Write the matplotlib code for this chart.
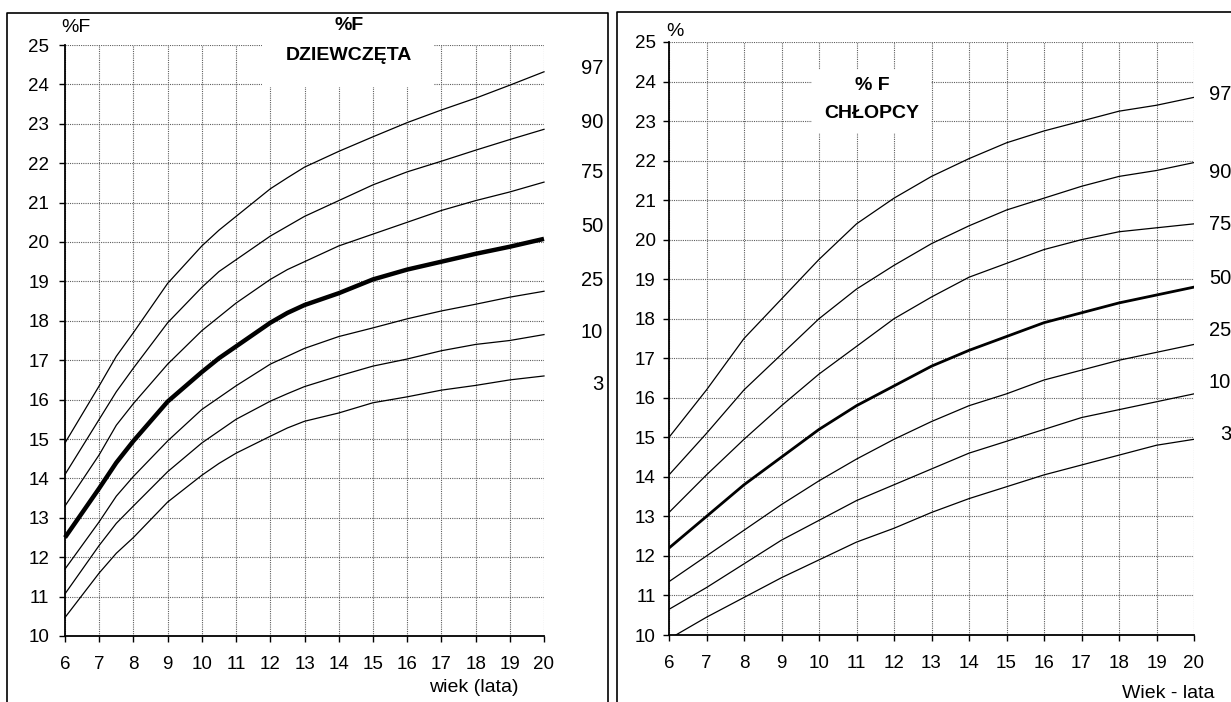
import matplotlib
matplotlib.use("Agg")
import matplotlib.pyplot as plt
from matplotlib.patches import Rectangle
from matplotlib.lines import Line2D

plt.rcParams['font.family'] = ['Liberation Sans', 'DejaVu Sans']

# --- dane: dziewczęta ---
age_g = [6, 7, 7.5, 8, 9, 10, 10.5, 11, 12, 12.5, 13, 14, 15, 16, 17, 18, 19, 20]
g_p97 = [14.9, 16.35, 17.1, 17.7, 18.95, 19.9, 20.3, 20.65, 21.35, 21.63, 21.9, 22.3, 22.67, 23.03, 23.35, 23.65, 23.98, 24.32]
g_p90 = [14.1, 15.5, 16.2, 16.8, 17.95, 18.85, 19.25, 19.55, 20.15, 20.4, 20.65, 21.05, 21.45, 21.78, 22.05, 22.33, 22.6, 22.86]
g_p75 = [13.3, 14.6, 15.35, 15.9, 16.9, 17.75, 18.1, 18.45, 19.05, 19.3, 19.5, 19.9, 20.2, 20.5, 20.8, 21.05, 21.27, 21.52]
g_p50 = [12.5, 13.75, 14.4, 14.95, 15.95, 16.7, 17.05, 17.35, 17.95, 18.2, 18.4, 18.7, 19.05, 19.3, 19.5, 19.7, 19.88, 20.08]
g_p25 = [11.7, 12.9, 13.55, 14.05, 14.95, 15.75, 16.05, 16.35, 16.9, 17.1, 17.3, 17.6, 17.82, 18.05, 18.25, 18.42, 18.6, 18.75]
g_p10 = [11.07, 12.3, 12.86, 13.3, 14.17, 14.9, 15.2, 15.5, 15.96, 16.15, 16.33, 16.6, 16.85, 17.03, 17.24, 17.4, 17.5, 17.65]
g_p3 = [10.47, 11.6, 12.1, 12.5, 13.4, 14.08, 14.38, 14.64, 15.07, 15.28, 15.45, 15.66, 15.92, 16.07, 16.24, 16.36, 16.5, 16.6]

# --- dane: chłopcy ---
age_b = [6, 7, 8, 9, 10, 11, 12, 13, 14, 15, 16, 17, 18, 19, 20]
b_p97 = [15.0, 16.2, 17.5, 18.5, 19.5, 20.4, 21.05, 21.6, 22.05, 22.45, 22.75, 23.0, 23.25, 23.4, 23.6]
b_p90 = [14.05, 15.1, 16.2, 17.1, 18.0, 18.75, 19.35, 19.9, 20.35, 20.75, 21.05, 21.35, 21.6, 21.75, 21.95]
b_p75 = [13.1, 14.05, 14.95, 15.8, 16.6, 17.3, 18.0, 18.55, 19.05, 19.4, 19.75, 20.0, 20.2, 20.3, 20.4]
b_p50 = [12.2, 13.0, 13.8, 14.5, 15.2, 15.8, 16.3, 16.8, 17.2, 17.55, 17.9, 18.15, 18.4, 18.6, 18.8]
b_p25 = [11.35, 12.0, 12.65, 13.3, 13.9, 14.45, 14.95, 15.4, 15.8, 16.1, 16.45, 16.7, 16.95, 17.15, 17.35]
b_p10 = [10.65, 11.2, 11.8, 12.4, 12.9, 13.4, 13.8, 14.2, 14.6, 14.9, 15.2, 15.5, 15.7, 15.9, 16.1]
b_p3 = [9.9, 10.45, 10.95, 11.45, 11.9, 12.35, 12.7, 13.1, 13.45, 13.75, 14.05, 14.3, 14.55, 14.8, 14.95]

centyle = ['97', '90', '75', '50', '25', '10', '3']
x_ticks = list(range(6, 21))
y_ticks = list(range(10, 26))

W, H = 1231, 702
fig = plt.figure(figsize=(W / 100, H / 100), dpi=100)


def fx(px):
    return px / W


def fy(py):
    return 1 - py / H


def setup(ax, pad_y):
    ax.set_xlim(6, 20)
    ax.set_ylim(10, 25)
    ax.set_xticks(x_ticks)
    ax.set_yticks(y_ticks)
    ax.tick_params(labelsize=13.5, length=4.5, width=1, direction='out')
    ax.tick_params(axis='y', pad=pad_y)
    ax.tick_params(axis='x', pad=10)
    ax.grid(True, color='#5e5e5e', linestyle=(0, (1, 1)), linewidth=0.8)
    ax.set_axisbelow(True)
    for s in ['top', 'right']:
        ax.spines[s].set_visible(False)
    ax.spines['left'].set_linewidth(1.3)
    ax.spines['bottom'].set_linewidth(1.3)


# lewy panel - dziewczęta
ax1 = fig.add_axes([fx(65), fy(636), fx(544 - 65), (636 - 45) / H])
setup(ax1, 7)
for vals in [g_p97, g_p90, g_p75, g_p25, g_p10, g_p3]:
    ax1.plot(age_g, vals, color='black', lw=0.9, clip_on=False)
ax1.plot(age_g, g_p50, color='black', lw=3.2, clip_on=False, solid_capstyle='butt')

# prawy panel - chłopcy
ax2 = fig.add_axes([fx(669), fy(635), fx(1194 - 669), (635 - 42) / H])
setup(ax2, 5)
for vals in [b_p97, b_p90, b_p75, b_p25, b_p10, b_p3]:
    ax2.plot(age_b, vals, color='black', lw=0.9)
ax2.plot(age_b, b_p50, color='black', lw=2.0)

# białe pola pod tytuły
fig.add_artist(Rectangle((fx(262), fy(87)), fx(434 - 262), (87 - 14) / H,
                         facecolor='white', edgecolor='none', zorder=5))
fig.add_artist(Rectangle((fx(812), fy(133)), fx(931 - 812), (133 - 70) / H,
                         facecolor='white', edgecolor='none', zorder=5))

fig.text(fx(349), fy(25), '%F', ha='center', va='center', fontsize=14, fontweight='bold', zorder=6)
fig.text(fx(349), fy(56), 'DZIEWCZĘTA', ha='center', va='center', fontsize=14, fontweight='bold', zorder=6)
fig.text(fx(872), fy(86), '% F', ha='center', va='center', fontsize=14, fontweight='bold', zorder=6)
fig.text(fx(872), fy(114), 'CHŁOPCY', ha='center', va='center', fontsize=14, fontweight='bold', zorder=6)

fig.text(fx(61), fy(27), '%F', ha='left', va='center', fontsize=14)
fig.text(fx(666), fy(31), '%', ha='left', va='center', fontsize=14)
fig.text(fx(474), fy(687), 'wiek (lata)', ha='center', va='center', fontsize=14)
fig.text(fx(1168), fy(694), 'Wiek - lata', ha='center', va='center', fontsize=14)

# etykiety centyli
lab_y_g = [68, 122, 173, 227, 280, 333, 385]
lab_y_b = [95, 173, 225, 278, 330, 383, 434]
for lab, py in zip(centyle, lab_y_g):
    fig.text(fx(603), fy(py), lab, ha='right', va='center', fontsize=14.5)
for lab, py in zip(centyle, lab_y_b):
    fig.text(fx(1231), fy(py), lab, ha='right', va='center', fontsize=14.5)

# ramki paneli
frame = dict(color='black', lw=1.2, transform=fig.transFigure)
fig.add_artist(Line2D([fx(7), fx(7), fx(608), fx(608)], [0, fy(13), fy(13), 0], **frame))
fig.add_artist(Line2D([fx(617), fx(617), 1.0], [0, fy(12), fy(12)], **frame))

fig.savefig('out.png', dpi=100)
